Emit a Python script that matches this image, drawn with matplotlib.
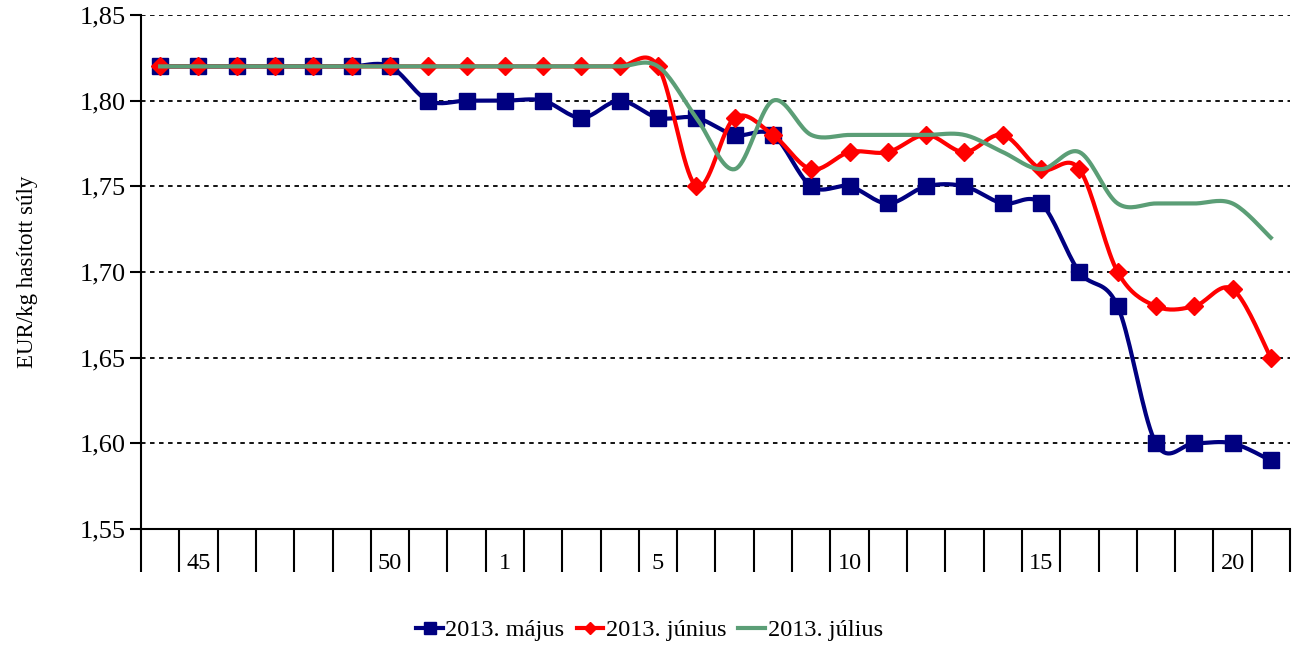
import numpy as np
import matplotlib
matplotlib.use("Agg")
import matplotlib.pyplot as plt
from matplotlib.lines import Line2D

# weeks 44-52 of 2012, then 1-21 of 2013
weeks = list(range(44, 53)) + list(range(1, 22))
shown_weeks = [45, 50, 1, 5, 10, 15, 20]

majus = [1.82, 1.82, 1.82, 1.82, 1.82, 1.82, 1.82, 1.80, 1.80, 1.80,
         1.80, 1.79, 1.80, 1.79, 1.79, 1.78, 1.78, 1.75, 1.75, 1.74,
         1.75, 1.75, 1.74, 1.74, 1.70, 1.68, 1.60, 1.60, 1.60, 1.59]
junius = [1.82, 1.82, 1.82, 1.82, 1.82, 1.82, 1.82, 1.82, 1.82, 1.82,
          1.82, 1.82, 1.82, 1.82, 1.75, 1.79, 1.78, 1.76, 1.77, 1.77,
          1.78, 1.77, 1.78, 1.76, 1.76, 1.70, 1.68, 1.68, 1.69, 1.65]
julius = [1.82, 1.82, 1.82, 1.82, 1.82, 1.82, 1.82, 1.82, 1.82, 1.82,
          1.82, 1.82, 1.82, 1.82, 1.79, 1.76, 1.80, 1.78, 1.78, 1.78,
          1.78, 1.78, 1.77, 1.76, 1.77, 1.74, 1.74, 1.74, 1.74, 1.72]

labels = ['2013. május', '2013. június', '2013. július']
colors = ['#000080', '#FF0000', '#5B9E76']


def smooth(y, n=20):
    """Excel-like smoothed line: cubic Bezier with Catmull-Rom control points"""
    y = np.asarray(y, dtype=float)
    x = np.arange(len(y), dtype=float)
    pts = np.column_stack([x, y])
    out = [pts[0]]
    t = np.linspace(0, 1, n)[1:, None]
    for i in range(len(pts) - 1):
        p0 = pts[max(i - 1, 0)]
        p1 = pts[i]
        p2 = pts[i + 1]
        p3 = pts[min(i + 2, len(pts) - 1)]
        c1 = p1 + (p2 - p0) / 6
        c2 = p2 - (p3 - p1) / 6
        seg = ((1 - t) ** 3) * p1 + 3 * ((1 - t) ** 2) * t * c1 \
            + 3 * (1 - t) * t ** 2 * c2 + t ** 3 * p2
        out.extend(seg)
    out = np.array(out)
    return out[:, 0], out[:, 1]


plt.rcParams['font.family'] = ['Liberation Serif', 'DejaVu Serif']

fig = plt.figure(figsize=(12.99, 6.47), dpi=100)
ax = fig.add_axes([141 / 1299, 1 - 529 / 647, (1290 - 141) / 1299, (529 - 15) / 647])

x = np.arange(len(weeks))
sx, sy = smooth(majus)
ax.plot(sx, sy, color=colors[0], lw=3, zorder=3)
ax.plot(x, majus, ls='none', marker='s', ms=11, color=colors[0], zorder=4)
sx, sy = smooth(junius)
ax.plot(sx, sy, color=colors[1], lw=3, zorder=5)
ax.plot(x, junius, ls='none', marker='D', ms=9, color=colors[1], zorder=6)
sx, sy = smooth(julius)
ax.plot(sx, sy, color=colors[2], lw=3, zorder=7)

ax.set_xlim(-0.5, len(weeks) - 0.5)
ax.set_ylim(1.55, 1.85)
yt = np.arange(1.55, 1.851, 0.05)
ax.set_yticks(yt)
ax.set_yticklabels([f'{v:.2f}'.replace('.', ',') for v in yt], fontsize=19)
for v in yt[1:]:
    ax.axhline(v, color='black', lw=1.3, ls=(0, (2.5, 2.5)), zorder=1)

# category boundaries as long ticks, labels at category centres
ax.set_xticks(np.arange(-0.5, len(weeks), 1.0))
ax.set_xticklabels([])
ax.tick_params(axis='x', which='major', length=31, width=1.5, direction='out')
ax.set_xticks([i for i, w in enumerate(weeks) if w in shown_weeks], minor=True)
ax.set_xticklabels([str(w) for w in weeks if w in shown_weeks], minor=True, fontsize=17.5)
ax.tick_params(axis='x', which='minor', length=0, pad=17)
ax.tick_params(axis='y', length=8, width=1.5, pad=3)

for s in ['top', 'right']:
    ax.spines[s].set_visible(False)
for s in ['left', 'bottom']:
    ax.spines[s].set_linewidth(1.5)

ax.set_ylabel('EUR/kg hasított súly', fontsize=16.5, labelpad=30)

handles = [
    Line2D([], [], color=colors[0], lw=3, marker='s', ms=8),
    Line2D([], [], color=colors[1], lw=3, marker='D', ms=6),
    Line2D([], [], color=colors[2], lw=3),
]
fig.legend(handles, labels, loc='center', bbox_to_anchor=(0.5, 1 - 630 / 647),
           ncol=3, frameon=False, fontsize=17.5, handlelength=1.1,
           handletextpad=0.1, columnspacing=0.5)

fig.savefig('out.png', dpi=100)
